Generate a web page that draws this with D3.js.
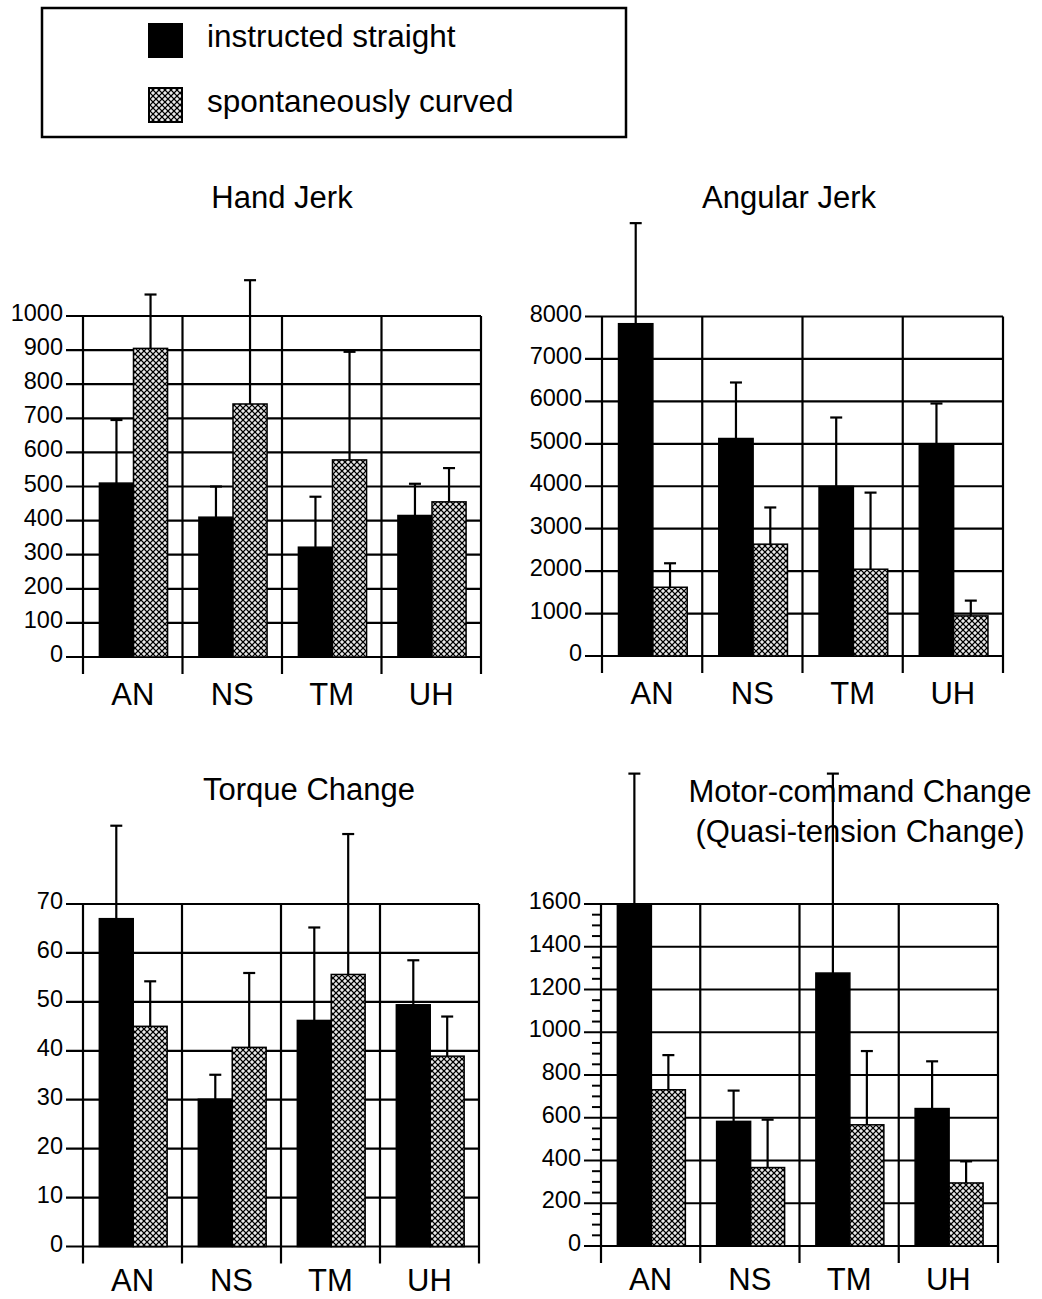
<!DOCTYPE html>
<html lang="en">
<head>
  <meta charset="utf-8">
  <title>Straight vs curved movements</title>
  <script src="https://d3js.org/d3.v7.min.js"></script>
  <style>
    body { margin: 0; background: #fff; }
    text { font-family: "Liberation Sans", Arial, Helvetica, sans-serif; fill: #000; }
  </style>
</head>
<body>
<script>
// categories and series
var categories = ["AN", "NS", "TM", "UH"];
var seriesNames = ["instructed straight", "spontaneously curved"];

// Hand Jerk
var handStraight   = [510, 410, 322, 415];
var handStraightSd = [185, 90, 148, 93];
var handCurved     = [905, 742, 578, 455];
var handCurvedSd   = [158, 363, 317, 99];
var handTicks      = [0, 100, 200, 300, 400, 500, 600, 700, 800, 900, 1000];

// Angular Jerk
var angStraight   = [7830, 5125, 3995, 4995];
var angStraightSd = [2370, 1320, 1625, 955];
var angCurved     = [1620, 2635, 2045, 945];
var angCurvedSd   = [565, 865, 1805, 360];
var angTicks      = [0, 1000, 2000, 3000, 4000, 5000, 6000, 7000, 8000];

// Torque Change
var torqStraight   = [67, 30.1, 46.2, 49.4];
var torqStraightSd = [19, 5, 19, 9.1];
var torqCurved     = [45, 40.7, 55.6, 38.9];
var torqCurvedSd   = [9.2, 15.2, 28.7, 8.1];
var torqTicks      = [0, 10, 20, 30, 40, 50, 60, 70];

// Motor-command Change
var motorStraight   = [1600, 583, 1277, 643];
var motorStraightSd = [610, 144, 933, 221];
var motorCurved     = [731, 367, 567, 295];
var motorCurvedSd   = [162, 224, 345, 101];
var motorTicks      = [0, 200, 400, 600, 800, 1000, 1200, 1400, 1600];

var width = 1042, height = 1299;

var svg = d3.select("body").append("svg")
  .attr("width", width)
  .attr("height", height);

// cross-hatch fill used for the curved bars
var pat = svg.append("defs").append("pattern")
  .attr("id", "hatch")
  .attr("patternUnits", "userSpaceOnUse")
  .attr("width", 6).attr("height", 6);
pat.append("rect").attr("width", 6).attr("height", 6).attr("fill", "#000");
[[3, 3], [0, 0], [6, 0], [0, 6], [6, 6]].forEach(function(c) {
  pat.append("rect").attr("x", c[0] - 1.8).attr("y", c[1] - 0.7).attr("width", 3.6).attr("height", 1.4).attr("fill", "#fff");
  pat.append("rect").attr("x", c[0] - 0.7).attr("y", c[1] - 1.8).attr("width", 1.4).attr("height", 3.6).attr("fill", "#fff");
});

// legend
var legend = svg.append("g");
legend.append("rect")
  .attr("x", 42).attr("y", 8).attr("width", 584).attr("height", 129)
  .attr("fill", "none").attr("stroke", "#000").attr("stroke-width", 2.5);
legend.append("rect")
  .attr("x", 148).attr("y", 23).attr("width", 35).attr("height", 35)
  .attr("fill", "#000");
legend.append("rect")
  .attr("x", 149).attr("y", 88).attr("width", 33).attr("height", 34)
  .attr("fill", "url(#hatch)").attr("stroke", "#000").attr("stroke-width", 2);
legend.append("text").attr("x", 207).attr("y", 47)
  .style("font-size", "31.5px").text(seriesNames[0]);
legend.append("text").attr("x", 207).attr("y", 112)
  .style("font-size", "31.5px").text(seriesNames[1]);

var panels = [
  { title: ["Hand Jerk"], tx: 282, ty: [208],
    left: 83, right: 481, top: 316, y0: 657, max: 1000, ticks: handTicks, labY: 48,
    s: handStraight, sSd: handStraightSd, c: handCurved, cSd: handCurvedSd },
  { title: ["Angular Jerk"], tx: 789, ty: [208],
    left: 602, right: 1003, top: 316.5, y0: 656, max: 8000, ticks: angTicks, labY: 48,
    s: angStraight, sSd: angStraightSd, c: angCurved, cSd: angCurvedSd },
  { title: ["Torque Change"], tx: 309, ty: [800],
    left: 83, right: 479, top: 904, y0: 1246.5, max: 70, ticks: torqTicks, labY: 44,
    s: torqStraight, sSd: torqStraightSd, c: torqCurved, cSd: torqCurvedSd },
  { title: ["Motor-command Change", "(Quasi-tension Change)"], tx: 860, ty: [802, 842],
    left: 601, right: 998, top: 904, y0: 1246, max: 1600, ticks: motorTicks, minor: 50, labY: 44,
    s: motorStraight, sSd: motorStraightSd, c: motorCurved, cSd: motorCurvedSd }
];

panels.forEach(function(p) {
  var g = svg.append("g");

  var x = d3.scaleBand().domain(categories).range([p.left, p.right]);
  var bw = x.bandwidth();
  var x1 = d3.scaleBand().domain([0, 1]).range([0.165 * bw, 0.85 * bw]);
  var y = d3.scaleLinear().domain([0, p.max]).range([p.y0, p.top]);

  // title
  p.title.forEach(function(t, i) {
    g.append("text").attr("x", p.tx).attr("y", p.ty[i])
      .attr("text-anchor", "middle").style("font-size", "31px").text(t);
  });

  // horizontal grid + y ticks
  g.selectAll(".grid").data(p.ticks).enter().append("line")
    .attr("x1", p.left - 17).attr("x2", p.right)
    .attr("y1", function(d) { return y(d); }).attr("y2", function(d) { return y(d); })
    .attr("stroke", "#000").attr("stroke-width", 2.2);

  g.selectAll(".ylab").data(p.ticks).enter().append("text")
    .attr("x", p.left - 20).attr("y", function(d) { return y(d) + 5; })
    .attr("text-anchor", "end").style("font-size", "23.5px")
    .text(function(d) { return d; });

  if (p.minor) {
    var minorTicks = d3.range(0, p.max, p.minor).filter(function(v) { return v % 200 !== 0; });
    g.selectAll(".minor").data(minorTicks).enter().append("line")
      .attr("x1", p.left - 9).attr("x2", p.left)
      .attr("y1", function(d) { return y(d); }).attr("y2", function(d) { return y(d); })
      .attr("stroke", "#000").attr("stroke-width", 2);
  }

  // vertical separators
  var seps = categories.map(function(c) { return x(c); }).concat([p.right]);
  g.selectAll(".sep").data(seps).enter().append("line")
    .attr("x1", function(d) { return d; }).attr("x2", function(d) { return d; })
    .attr("y1", p.top).attr("y2", p.y0 + 17)
    .attr("stroke", "#000").attr("stroke-width", 2.2);

  // category labels
  g.selectAll(".xlab").data(categories).enter().append("text")
    .attr("x", function(d) { return x(d) + bw / 2; })
    .attr("y", p.y0 + p.labY)
    .attr("text-anchor", "middle").style("font-size", "31px")
    .text(function(d) { return d; });

  var rows = [];
  categories.forEach(function(c, i) {
    rows.push({ cat: c, k: 0, v: p.s[i], sd: p.sSd[i] });
    rows.push({ cat: c, k: 1, v: p.c[i], sd: p.cSd[i] });
  });

  // bars
  g.selectAll(".bar").data(rows).enter().append("rect")
    .attr("x", function(d) { return x(d.cat) + x1(d.k); })
    .attr("width", x1.bandwidth())
    .attr("y", function(d) { return y(d.v); })
    .attr("height", function(d) { return p.y0 - y(d.v); })
    .attr("fill", function(d) { return d.k === 0 ? "#000" : "url(#hatch)"; })
    .attr("stroke", "#000").attr("stroke-width", 1.5);

  // error bars (upper only)
  var eb = g.selectAll(".err").data(rows).enter().append("g");
  eb.append("line")
    .attr("x1", function(d) { return x(d.cat) + x1(d.k) + x1.bandwidth() / 2; })
    .attr("x2", function(d) { return x(d.cat) + x1(d.k) + x1.bandwidth() / 2; })
    .attr("y1", function(d) { return y(d.v); })
    .attr("y2", function(d) { return y(d.v + d.sd); })
    .attr("stroke", "#000").attr("stroke-width", 2.2);
  eb.append("line")
    .attr("x1", function(d) { return x(d.cat) + x1(d.k) + x1.bandwidth() / 2 - 6; })
    .attr("x2", function(d) { return x(d.cat) + x1(d.k) + x1.bandwidth() / 2 + 6; })
    .attr("y1", function(d) { return y(d.v + d.sd); })
    .attr("y2", function(d) { return y(d.v + d.sd); })
    .attr("stroke", "#000").attr("stroke-width", 2.2);
});
</script>
</body>
</html>
